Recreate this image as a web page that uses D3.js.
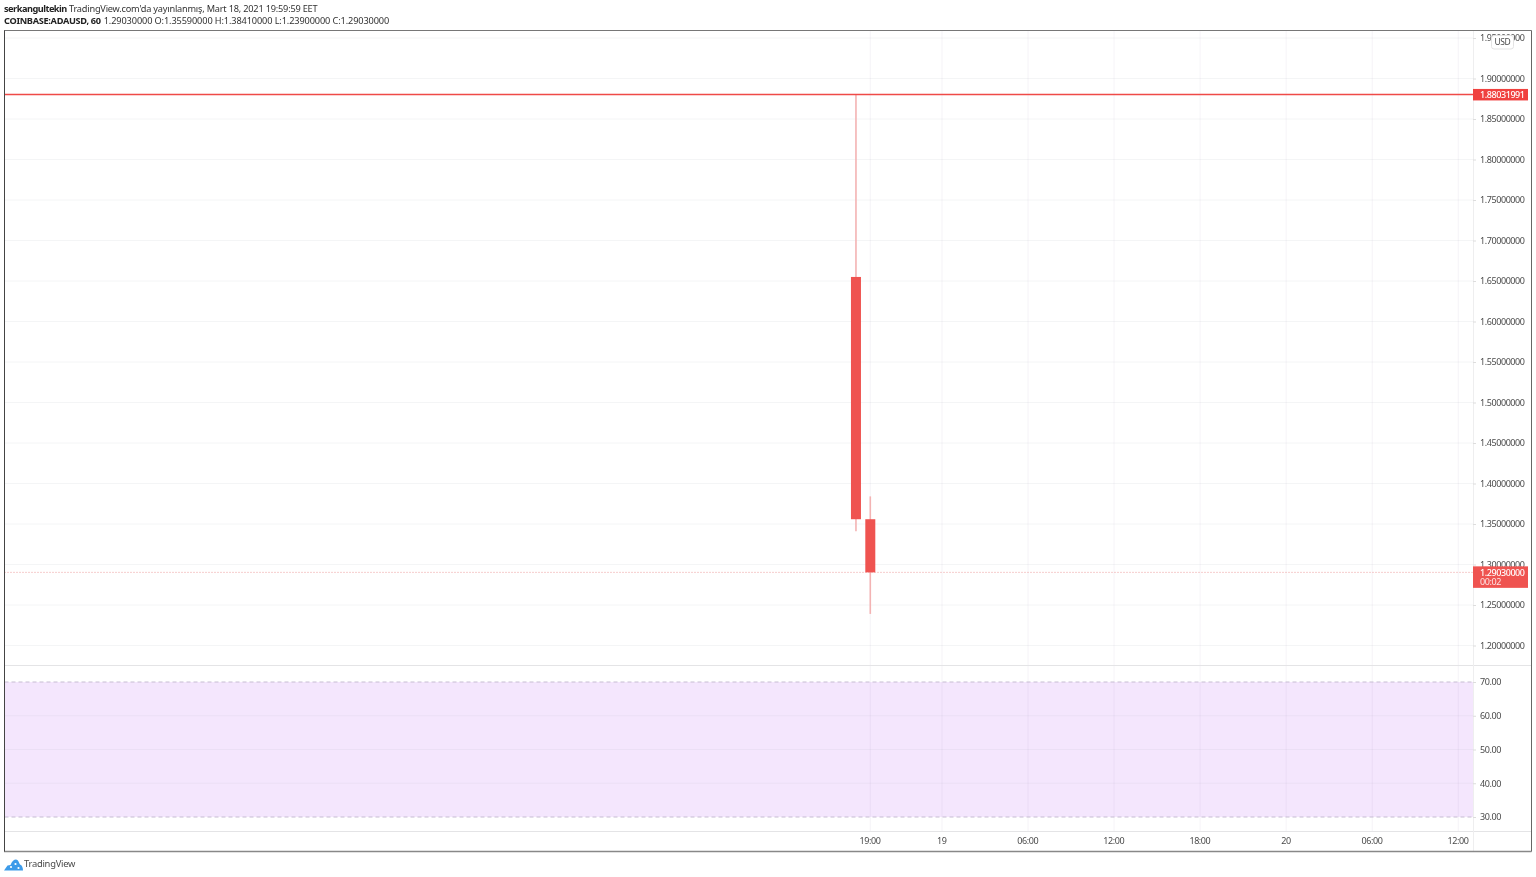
<!DOCTYPE html>
<html><head><meta charset="utf-8">
<script src="https://cdn.jsdelivr.net/npm/d3@7"></script>
<style>
html,body{margin:0;padding:0;background:#fff;overflow:hidden}
svg{display:block;filter:blur(0.35px)}
text{font-family:"Noto Sans",sans-serif;fill:#4a4a4a;font-size:9px;letter-spacing:-.42px}
.domain{display:none}
</style></head><body>
<svg id="c" width="1536" height="877"></svg>
<script>
// ---- data ----
const candleTimes=["2021-03-18T18:00Z","2021-03-18T19:00Z"];
const opens=[1.655,1.3559];
const highs=[1.88031991,1.3841];
const lows=[1.341,1.239];
const closes=[1.3559,1.2903];
const priceTicks=[1.2,1.25,1.3,1.35,1.4,1.45,1.5,1.55,1.6,1.65,1.7,1.75,1.8,1.85,1.9,1.95];
const rsiTicks=[30,40,50,60,70];
const timeTickDates=["2021-03-18T19:00Z","2021-03-19T00:00Z","2021-03-19T06:00Z","2021-03-19T12:00Z","2021-03-19T18:00Z","2021-03-20T00:00Z","2021-03-20T06:00Z","2021-03-20T12:00Z"];
const timeTickLabels=["19:00","19","06:00","12:00","18:00","20","06:00","12:00"];
const hLinePrice=1.88031991;
const lastPrice=1.2903;
const countdown="00:02";
const rsiBand=[70,30];
const headerLine1=["serkangultekin"," TradingView.com'da yayınlanmış, Mart 18, 2021 19:59:59 EET"];
const headerLine2=["COINBASE:ADAUSD, 60","1.29030000 O:1.35590000 H:1.38410000 L:1.23900000 C:1.29030000"];

// ---- layout ----
const L=4.5,R=1531,T=30.5,B=851.5,axisX=1473,paneY=665.5,timeY=831.5;
const svg=d3.select("#c");
const parse=s=>new Date(s);
const y=d3.scaleLinear().domain([1.2,1.9]).range([645.5,78.5]);
const yR=d3.scaleLinear().domain([30,70]).range([817,682]);
const x=d3.scaleUtc().domain([parse("2021-03-18T19:00Z"),parse("2021-03-20T12:00Z")]).range([870.3,1458.3]);
const fmtP=d=>d.toFixed(8), fmtR=d=>d.toFixed(2);

// header
const h=svg.append("g");
const t1=h.append("text").attr("x",4).attr("y",12).style("font-size","9.2px").style("letter-spacing","-.2px").style("fill","#333");
t1.append("tspan").style("font-weight","700").style("letter-spacing","-.5px").style("fill","#222").text(headerLine1[0]);
t1.append("tspan").text(headerLine1[1]);
const t2=h.append("text").attr("x",4).attr("y",24).style("font-size","9.2px").style("letter-spacing","-.12px").style("fill","#333");
t2.append("tspan").style("font-weight","700").style("letter-spacing","-.3px").style("fill","#222").text(headerLine2[0]);
t2.append("tspan").attr("dx",3).text(headerLine2[1]);

// RSI band
svg.append("rect").attr("x",L).attr("width",axisX-L).attr("y",yR(rsiBand[0])).attr("height",yR(rsiBand[1])-yR(rsiBand[0])).attr("fill","#f4e6fd");

// grids
const gridC="#f0f1f3";
const grid=svg.append("g");
grid.selectAll(".gp").data(priceTicks).join("line").attr("x1",L).attr("x2",axisX).attr("y1",d=>y(d)).attr("y2",d=>y(d)).attr("stroke",gridC).attr("stroke-opacity",.75);
grid.selectAll(".gr").data(rsiTicks.filter(d=>d>30&&d<70)).join("line").attr("x1",L).attr("x2",axisX).attr("y1",d=>yR(d)).attr("y2",d=>yR(d)).attr("stroke","#ebdff5");
grid.selectAll(".gt").data(timeTickDates).join("line").attr("x1",d=>x(parse(d))).attr("x2",d=>x(parse(d))).attr("y1",T).attr("y2",timeY).attr("stroke","#8a6fa8").attr("stroke-opacity",.08);

// RSI band limits
svg.selectAll(".lim").data(rsiBand).join("line").attr("x1",L).attr("x2",axisX).attr("y1",d=>yR(d)).attr("y2",d=>yR(d)).attr("stroke","#c6bcd2").attr("stroke-dasharray","4 3");

// pane separators
[paneY,timeY].forEach(v=>svg.append("line").attr("x1",L).attr("x2",R).attr("y1",v).attr("y2",v).attr("stroke","#e4e4e6"));
svg.append("line").attr("x1",axisX+.5).attr("x2",axisX+.5).attr("y1",T).attr("y2",B).attr("stroke","#eeeeef");

// last price dotted
svg.append("line").attr("x1",L).attr("x2",axisX).attr("y1",y(lastPrice)).attr("y2",y(lastPrice)).attr("stroke","#ec9a9a").attr("stroke-dasharray","1 2");

// candles
const cw=10;
const cg=svg.append("g");
const idx=d3.range(candleTimes.length);
cg.selectAll(".wick").data(idx).join("line").attr("x1",i=>x(parse(candleTimes[i]))).attr("x2",i=>x(parse(candleTimes[i]))).attr("y1",i=>y(highs[i])).attr("y2",i=>y(lows[i])).attr("stroke","#f3b3b3").attr("stroke-width",1.6);
cg.selectAll(".body").data(idx).join("rect").attr("x",i=>x(parse(candleTimes[i]))-cw/2).attr("width",cw).attr("y",i=>y(opens[i])).attr("height",i=>y(closes[i])-y(opens[i])).attr("fill","#ef5350");

// horizontal price line
svg.append("line").attr("x1",L).attr("x2",axisX).attr("y1",y(hLinePrice)).attr("y2",y(hLinePrice)).attr("stroke","#ef4a47").attr("stroke-width",1.4);

// axes
const axP=svg.append("g").attr("transform",`translate(${axisX},0)`).call(d3.axisRight(y).tickValues(priceTicks).tickFormat(fmtP).tickSize(3).tickPadding(4));
const axR=svg.append("g").attr("transform",`translate(${axisX},0)`).call(d3.axisRight(yR).tickValues(rsiTicks).tickFormat(fmtR).tickSize(3).tickPadding(4));
const axT=svg.append("g").attr("transform",`translate(-0.8,${timeY})`).call(d3.axisBottom(x).tickValues(timeTickDates.map(parse)).tickFormat((d,i)=>timeTickLabels[i]).tickSize(0).tickPadding(5));
svg.selectAll(".tick line").attr("stroke","#ddd");
svg.selectAll(".tick text").attr("fill",null);
axT.selectAll("text").attr("dy","0.8em");

// USD button
svg.append("rect").attr("x",1491.5).attr("y",35.5).attr("width",22).attr("height",13.5).attr("rx",2.5).attr("fill","#fff").attr("stroke","#e3e3e3");
svg.append("text").attr("x",1502.5).attr("y",45).attr("text-anchor","middle").style("font-size","8.5px").text("USD");

// price labels
const lbl=svg.append("g");
lbl.append("rect").attr("x",axisX).attr("width",55).attr("y",y(hLinePrice)-5.5).attr("height",11.5).attr("fill","#f0413f");
lbl.append("text").attr("x",1480).attr("y",y(hLinePrice)+3.3).style("fill","#fff").style("font-weight","500").text(fmtP(hLinePrice));
lbl.append("rect").attr("x",axisX).attr("width",55).attr("y",y(lastPrice)-6).attr("height",21.5).attr("fill","#ef5350");
lbl.append("text").attr("x",1480).attr("y",y(lastPrice)+3.3).style("fill","#fff").style("font-weight","500").text(fmtP(lastPrice));
lbl.append("text").attr("x",1480).attr("y",y(lastPrice)+12.5).style("fill","#fde3e3").text(countdown);

// frame
const fr=svg.append("g").attr("fill","none");
fr.append("line").attr("x1",L-.5).attr("x2",R+.5).attr("y1",T).attr("y2",T).attr("stroke","#777");
fr.append("line").attr("x1",L-.5).attr("x2",R+.5).attr("y1",B).attr("y2",B).attr("stroke","#888").attr("stroke-width",1.4);
fr.append("line").attr("x1",L).attr("x2",L).attr("y1",T).attr("y2",B).attr("stroke","#444");
fr.append("line").attr("x1",R+.5).attr("x2",R+.5).attr("y1",T).attr("y2",B).attr("stroke","#666");

// brand
const logo=svg.append("g").attr("transform","translate(4,858)");
logo.append("path").attr("d","M0 12.5 L3.5 7.5 L6.5 7 C8 3 10 1.5 12 1.5 C14 1.5 15 4.5 16 6.5 C18 7 19 10 19 12.5 Z").attr("fill","#3d9be9");
logo.append("circle").attr("cx",7).attr("cy",9).attr("r",1.1).attr("fill","#fff");
logo.append("circle").attr("cx",11.5).attr("cy",6).attr("r",1.1).attr("fill","#fff");
logo.append("circle").attr("cx",14.5).attr("cy",10).attr("r",1.1).attr("fill","#fff");
svg.append("text").attr("x",24).attr("y",867).style("font-size","9.4px").style("letter-spacing","-.25px").text("TradingView");
</script></body></html>
